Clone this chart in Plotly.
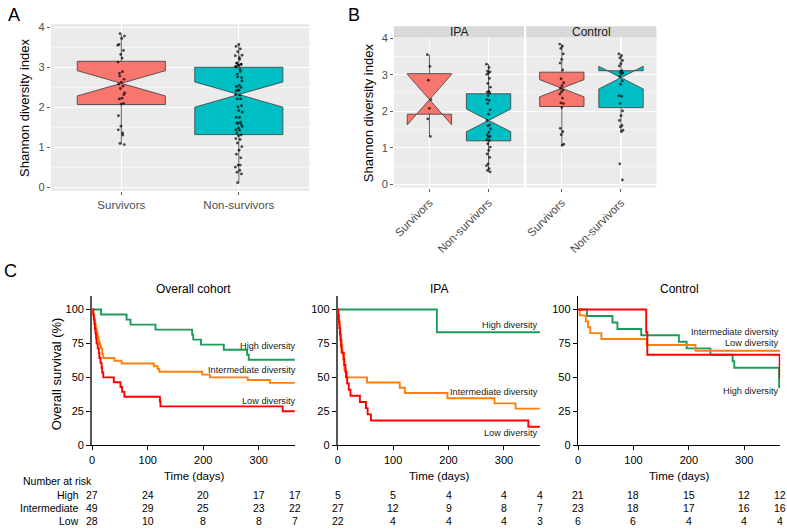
import plotly.graph_objects as go

# ---------------- data ----------------
CATS = ["Survivors", "Non-survivors"]
FACETS = ["IPA", "Control"]

# Panel A box statistics [Survivors, Non-survivors]
A_Q1 = [2.07, 1.32]
A_MED = [2.60, 2.32]
A_Q3 = [3.15, 3.00]
A_LO = [1.07, 0.10]
A_HI = [3.82, 3.58]
A_NOTCH = [0.315, 0.315]

# Panel B box statistics, IPA facet
IPA_Q1 = [1.92, 1.19]
IPA_MED = [2.32, 1.75]
IPA_Q3 = [3.03, 2.48]
IPA_LO = [1.31, 0.34]
IPA_HI = [3.55, 3.29]
IPA_NOTCH = [0.69, 0.31]

# Panel B box statistics, Control facet
CTRL_Q1 = [2.13, 2.10]
CTRL_MED = [2.63, 2.92]
CTRL_Q3 = [3.07, 3.11]
CTRL_LO = [1.07, 1.44]
CTRL_HI = [3.84, 3.57]
CTRL_NOTCH = [0.235, 0.31]

# individual Shannon index values
IPA_SURV_PTS = [3.55, 3.23, 2.85, 2.32, 2.08, 1.79, 1.31]
IPA_NONSURV_PTS = [3.29, 3.20, 3.10, 3.08, 3.05, 3.01, 2.90, 2.76, 2.66, 2.55, 2.52, 2.50,
                   2.43, 2.32, 2.30, 2.21, 2.04, 1.92, 1.75, 1.63, 1.60, 1.52, 1.43, 1.36,
                   1.31, 1.29, 1.22, 1.20, 1.11, 1.02, 0.93, 0.83, 0.74, 0.56, 0.51, 0.43,
                   0.38, 0.34]
CTRL_SURV_PTS = [3.84, 3.78, 3.72, 3.57, 3.42, 3.32, 3.13, 2.89, 2.78, 2.70, 2.63, 2.58,
                 2.53, 2.47, 2.36, 2.23, 2.21, 2.10, 1.53, 1.44, 1.36, 1.10, 1.07]
CTRL_NONSURV_PTS = [3.57, 3.52, 3.46, 3.39, 3.30, 3.24, 3.11, 3.07, 3.05, 3.02, 2.95, 2.83,
                    2.74, 2.43, 2.41, 2.21, 2.01, 1.88, 1.75, 1.61, 1.57, 1.48, 1.44, 0.56,
                    0.12]

# Kaplan-Meier curves (time in days, survival in %)
OC_HIGH_T = [0, 16, 62, 69, 114, 180, 182, 196, 237, 279, 282]
OC_HIGH_S = [100, 96.3, 92.6, 88.9, 85.2, 81.5, 77.8, 74.1, 70.4, 66.7, 63.0]
OC_INT_T = [0, 1, 2, 3, 4, 5, 6, 7, 8, 9, 10, 11, 12, 14, 16, 18, 20, 40, 53, 111, 118, 121, 198, 212, 280, 320]
OC_INT_S = [100, 98, 96, 94, 92, 90, 88, 86, 84, 82, 80, 78, 76, 73.5, 71.4, 67.3, 64.3, 62.2, 60.2, 58.2, 56.1, 54.1, 52.0, 50.0, 48.0, 45.9]
OC_LOW_T = [0, 2, 3, 4, 5, 6, 7, 8, 10, 12, 13, 15, 17, 18, 20, 39, 51, 54, 58, 122, 123, 343]
OC_LOW_S = [100, 96.4, 92.9, 89.3, 85.7, 82.1, 78.6, 75.0, 71.4, 67.9, 64.3, 60.7, 57.1, 53.6, 50.0, 46.4, 42.9, 39.3, 35.7, 32.1, 28.6, 25.0]

IPA_HIGH_T = [0, 179]
IPA_HIGH_S = [100, 83.3]
IPA_INT_T = [0, 1, 2, 3, 4, 5, 6, 7, 8, 9, 10, 11, 12, 14, 17, 53, 112, 121, 198, 283, 321]
IPA_INT_S = [100, 96.3, 92.6, 88.9, 85.2, 81.5, 77.8, 74.1, 70.4, 66.7, 63.0, 59.3, 55.6, 53.7, 50.0, 46.2, 42.3, 38.5, 34.6, 30.8, 26.9]
IPA_LOW_T = [0, 1, 2, 3, 4, 5, 6, 7, 11, 12, 14, 15, 17, 20, 23, 40, 51, 54, 60, 344]
IPA_LOW_S = [100, 95.5, 90.9, 86.4, 81.8, 77.3, 72.7, 68.2, 63.6, 59.1, 54.5, 50.0, 45.5, 40.9, 36.4, 31.8, 27.3, 22.7, 18.2, 13.6]

CTRL_HIGH_T = [0, 16, 62, 71, 114, 182, 196, 239, 279, 282, 363]
CTRL_HIGH_S = [100, 95.2, 90.5, 85.7, 81.0, 76.2, 71.4, 66.7, 61.9, 57.1, 42.9]
CTRL_INT_T = [0, 3, 14, 18, 22, 42, 124, 212]
CTRL_INT_S = [100, 95.7, 91.3, 87.0, 82.6, 78.3, 73.9, 69.6]
CTRL_LOW_T = [0, 123, 125, 364]
CTRL_LOW_S = [100, 83.3, 66.7, 50.0]

T_END = 365
TIME_TICKS = [0, 100, 200, 300]
SURV_TICKS = [0, 25, 50, 75, 100]

RISK_TIMES = [0, 100, 200, 300, 365]
RISK_GROUPS = ["High", "Intermediate", "Low"]
RISK_OVERALL = [[27, 24, 20, 17, 17], [49, 29, 25, 23, 22], [28, 10, 8, 8, 7]]
RISK_IPA = [[5, 5, 4, 4, 4], [27, 12, 9, 8, 7], [22, 4, 4, 4, 3]]
RISK_CTRL = [[21, 18, 15, 12, 12], [23, 18, 17, 16, 16], [6, 6, 4, 4, 4]]

# ---------------- helpers ----------------
W, H = 787, 531
FONT = "Liberation Sans, Arial, Helvetica, sans-serif"


def PX(x):
    return x / W


def PY(y):
    return 1 - y / H


def jitter(n, w):
    # deterministic, evenly spread horizontal offsets (visual jitter only)
    return [w * (((i * 0.6180339887) % 1.0) * 2 - 1) for i in range(n)]


RED_FILL = "#F8766D"
CYAN_FILL = "#00BFC4"
GREEN = "#1E9A5A"
ORANGE = "#FF7F0E"
RED = "#FF0000"

fig = go.Figure()


def add_boxes(xa, ya, q1, med, q3, lo, hi, notch, pts_lists, jw):
    for i, col in enumerate([RED_FILL, CYAN_FILL]):
        fig.add_trace(go.Box(
            x=[i], q1=[q1[i]], median=[med[i]], q3=[q3[i]],
            lowerfence=[lo[i]], upperfence=[hi[i]], notchspan=[notch[i]],
            notched=True, notchwidth=0.5, width=0.75, whiskerwidth=0,
            fillcolor=col, line=dict(color="#3a3a3a", width=0.8),
            boxpoints=False, xaxis=xa, yaxis=ya, showlegend=False, hoverinfo="skip"))
    for i, pts in enumerate(pts_lists):
        offs = jitter(len(pts), jw)
        fig.add_trace(go.Scatter(
            x=[i + o for o in offs], y=pts, mode="markers",
            marker=dict(size=2.8, color="rgba(0,0,0,0.7)", line=dict(width=0)),
            xaxis=xa, yaxis=ya, showlegend=False, hoverinfo="skip"))


# Panel A
add_boxes("x", "y", A_Q1, A_MED, A_Q3, A_LO, A_HI, A_NOTCH,
          [IPA_SURV_PTS + CTRL_SURV_PTS, IPA_NONSURV_PTS + CTRL_NONSURV_PTS], 0.03)
# Panel B
add_boxes("x2", "y2", IPA_Q1, IPA_MED, IPA_Q3, IPA_LO, IPA_HI, IPA_NOTCH,
          [IPA_SURV_PTS, IPA_NONSURV_PTS], 0.035)
add_boxes("x3", "y3", CTRL_Q1, CTRL_MED, CTRL_Q3, CTRL_LO, CTRL_HI, CTRL_NOTCH,
          [CTRL_SURV_PTS, CTRL_NONSURV_PTS], 0.035)

# Panel C
km_sets = [
    ("x4", "y4", [(OC_HIGH_T, OC_HIGH_S, GREEN), (OC_INT_T, OC_INT_S, ORANGE), (OC_LOW_T, OC_LOW_S, RED)]),
    ("x5", "y5", [(IPA_HIGH_T, IPA_HIGH_S, GREEN), (IPA_INT_T, IPA_INT_S, ORANGE), (IPA_LOW_T, IPA_LOW_S, RED)]),
    ("x6", "y6", [(CTRL_HIGH_T, CTRL_HIGH_S, GREEN), (CTRL_INT_T, CTRL_INT_S, ORANGE), (CTRL_LOW_T, CTRL_LOW_S, RED)]),
]
for xa, ya, curves in km_sets:
    for t, s, c in curves:
        fig.add_trace(go.Scatter(
            x=t + [T_END], y=s + [s[-1]], mode="lines", line=dict(color=c, width=1.9, shape="hv"),
            xaxis=xa, yaxis=ya, showlegend=False, hoverinfo="skip"))

# ---------------- axes ----------------
gg_tickfont = dict(family=FONT, size=11, color="#4D4D4D")
minor_grid = dict(dtick=0.5, tick0=0, showgrid=True, gridcolor="white", gridwidth=0.5, ticks="")

layout = dict(
    width=W, height=H, margin=dict(l=0, r=0, t=0, b=0),
    paper_bgcolor="white", plot_bgcolor="rgba(0,0,0,0)",
    font=dict(family=FONT, color="black"), showlegend=False,
)

cat_x = dict(range=[-0.6, 1.6], tickvals=[0, 1], ticktext=CATS, showgrid=True, gridcolor="white",
             gridwidth=1.1, zeroline=False, ticks="outside", ticklen=3, tickcolor="#333333",
             tickwidth=0.8, tickfont=dict(family=FONT, size=11.5, color="#4D4D4D"), fixedrange=True)
layout["xaxis"] = dict(cat_x, domain=[PX(48), PX(307.5)], anchor="y")
layout["yaxis"] = dict(domain=[PY(189.3), PY(18.3)], range=[-0.088, 4.083], anchor="x",
                       tickvals=[0, 1, 2, 3, 4], showgrid=True, gridcolor="white", gridwidth=1.1,
                       minor=minor_grid, zeroline=False, ticks="outside", ticklen=3,
                       tickcolor="#333333", tickwidth=0.8, tickfont=gg_tickfont)
layout["xaxis2"] = dict(cat_x, domain=[PX(392.5), PX(523)], anchor="y2", tickangle=-45)
layout["yaxis2"] = dict(domain=[PY(185.7), PY(32.3)], range=[-0.087, 4.017], anchor="x2",
                        tickvals=[0, 1, 2, 3, 4], showgrid=True, gridcolor="white", gridwidth=1.1,
                        minor=minor_grid, zeroline=False, ticks="outside", ticklen=3,
                        tickcolor="#333333", tickwidth=0.8, tickfont=gg_tickfont)
layout["xaxis3"] = dict(cat_x, domain=[PX(525.3), PX(656)], anchor="y3", tickangle=-45)
layout["yaxis3"] = dict(domain=[PY(185.7), PY(32.3)], range=[-0.087, 4.017], anchor="x3",
                        tickvals=[0, 1, 2, 3, 4], showgrid=True, gridcolor="white", gridwidth=1.1,
                        minor=minor_grid, zeroline=False, ticks="", showticklabels=False)

km_x_domains = [(89.5, 293), (336, 539), (577.3, 780.2)]
for k, (a, b) in enumerate(km_x_domains):
    n = k + 4
    layout[f"xaxis{n}"] = dict(domain=[PX(a), PX(b)], range=[0, T_END], anchor=f"y{n}",
                               tickvals=TIME_TICKS, showgrid=False, zeroline=False, showline=True,
                               linecolor="black", linewidth=1.3, ticks="outside", ticklen=4,
                               tickcolor="black", tickwidth=1,
                               tickfont=dict(family=FONT, size=11, color="black"))
    layout[f"yaxis{n}"] = dict(domain=[PY(449.3), PY(296.7)], range=[0, 110], anchor=f"x{n}",
                               tickvals=SURV_TICKS, showgrid=False, zeroline=False, showline=True,
                               linecolor="#555555" if k < 2 else "black",
                               linewidth=2 if k < 2 else 1.3, ticks="outside", ticklen=4,
                               tickcolor="black", tickwidth=1,
                               tickfont=dict(family=FONT, size=11, color="black"))

fig.update_layout(**layout)

# ---------------- shapes ----------------
shapes = []
for xa, ya in [("x", "y"), ("x2", "y2"), ("x3", "y3")]:
    shapes.append(dict(type="rect", xref=f"{xa} domain", yref=f"{ya} domain", x0=0, x1=1, y0=0, y1=1,
                       fillcolor="#EBEBEB", line=dict(width=0), layer="below"))
for a, b in [(392.5, 523), (525.3, 656)]:
    shapes.append(dict(type="rect", xref="paper", yref="paper", x0=PX(a), x1=PX(b),
                       y0=PY(32.3), y1=PY(20.7), fillcolor="#D9D9D9", line=dict(width=0)))
fig.update_layout(shapes=shapes)

# ---------------- annotations ----------------
ann = []


def text(x, y, s, size, xanchor="center", color="black", angle=0):
    ann.append(dict(x=PX(x), y=PY(y), xref="paper", yref="paper", text=s, showarrow=False,
                    xanchor=xanchor, yanchor="middle", textangle=angle,
                    font=dict(family=FONT, size=size, color=color)))


text(11, 9, "A", 18)
text(352, 9, "B", 18)
text(8, 271, "C", 18)
text(21.7, 103.7, "Shannon diversity index", 13, angle=-90)
text(367, 109, "Shannon diversity index", 13, angle=-90)
text((392.5 + 523) / 2, 26.5, FACETS[0], 12, color="#1A1A1A")
text((525.3 + 656) / 2, 26.5, FACETS[1], 12, color="#1A1A1A")

# Panel C titles and axis titles
for (a, b), title in zip(km_x_domains, ["Overall cohort", "IPA", "Control"]):
    text((a + b) / 2, 290, title, 12)
    text((a + b) / 2, 481, "Time (days)", 11.5)
text(54, 376, "Overall survival (%)", 13, angle=-90)

# curve labels
for x, y, s in [(296, 348, "High diversity"), (296, 372.7, "Intermediate diversity"),
                (296, 404, "Low diversity"),
                (539.5, 326, "High diversity"), (539.5, 395, "Intermediate diversity"),
                (539.5, 436.7, "Low diversity"),
                (781, 334, "Intermediate diversity"), (781, 345, "Low diversity"),
                (781, 394, "High diversity")]:
    text(x, y, s, 9.2, xanchor="right", color="#1A1A1A")

# Number at risk table
text(18, 486, "Number at risk", 10.5, xanchor="left")
row_y = [500.7, 514, 527]
for g, yy in zip(RISK_GROUPS, row_y):
    text(78, yy, g, 10.5, xanchor="right")
for n, table in zip([4, 5, 6], [RISK_OVERALL, RISK_IPA, RISK_CTRL]):
    for row, yy in zip(table, row_y):
        for t, v in zip(RISK_TIMES, row):
            ann.append(dict(x=t, y=PY(yy), xref=f"x{n}", yref="paper", text=str(v),
                            showarrow=False, xanchor="center", yanchor="middle",
                            font=dict(family=FONT, size=10.5, color="black")))

fig.update_layout(annotations=ann)

fig.write_html(
    "out.html",
    config={"displayModeBar": False, "staticPlot": True},
    post_script="document.body.style.margin='0';document.body.style.padding='0';"
                "document.body.style.overflow='hidden';",
)
